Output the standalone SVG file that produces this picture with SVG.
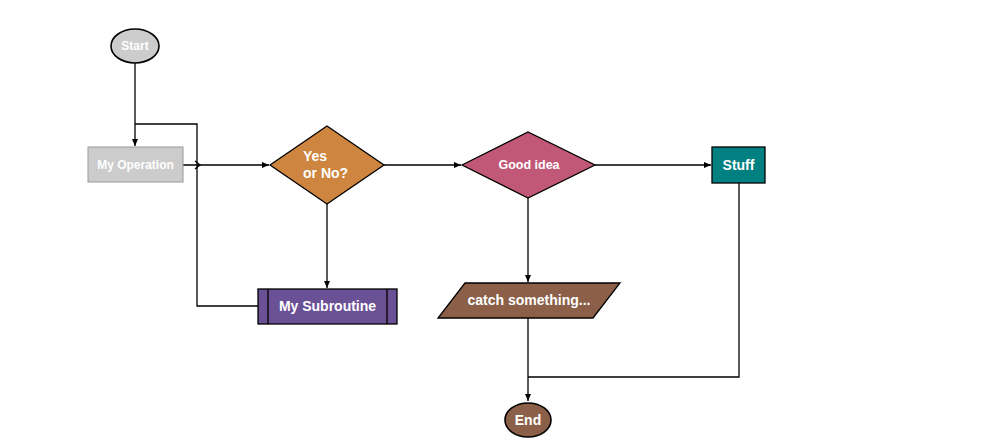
<svg xmlns="http://www.w3.org/2000/svg" width="1000" height="447" viewBox="0 0 1000 447">
<defs>
<marker id="arr" markerWidth="8" markerHeight="8" refX="7" refY="4" orient="auto" markerUnits="userSpaceOnUse">
<path d="M0,1 L7,4 L0,7 Z" fill="#000"/>
</marker>
</defs>
<style>
.lbl{font-family:"Liberation Sans",Arial,sans-serif;font-weight:bold;fill:#fff;font-size:14px;text-anchor:middle}
.sm{font-size:12px}
.edge{fill:none;stroke:#000;stroke-width:1.3}
.el{font-family:"Liberation Sans",Arial,sans-serif;font-weight:bold;fill:#fff;font-size:12px}
</style>
<rect width="1000" height="447" fill="#fff"/>
<g id="connectors">
<path class="edge" d="M135,63 V146" marker-end="url(#arr)"/>
<path class="edge" d="M183,165 H269" marker-end="url(#arr)"/>
<path class="edge" d="M195,161 L200,165 L195,169"/>
<path class="edge" d="M258,306 H197 V124 H135"/>
<path class="edge" d="M384,165 H461" marker-end="url(#arr)"/>
<path class="edge" d="M327,204 V288" marker-end="url(#arr)"/>
<path class="edge" d="M595,165 H711" marker-end="url(#arr)"/>
<path class="edge" d="M528,198 V282" marker-end="url(#arr)"/>
<path class="edge" d="M528,318 V401" marker-end="url(#arr)"/>
<path class="edge" d="M739,183 V377 H528"/>
<text class="el" x="398" y="159">yes</text>
<text class="el" x="333" y="216">no</text>
<text class="el" x="605" y="159">no</text>
<text class="el" x="534" y="212">yes</text>
</g>
<g id="start">
<ellipse cx="135" cy="46" rx="24" ry="17" fill="#cccccc" stroke="#000" stroke-width="1.6"/>
<text class="lbl sm" x="135" y="50">Start</text>
</g>
<g id="myoperation">
<rect x="88" y="147" width="95" height="35" fill="#cccccc" stroke="#999" stroke-width="1"/>
<text class="lbl sm" x="135.5" y="169">My Operation</text>
</g>
<g id="yesorno">
<polygon points="270,165 327,126 384,165 327,204" fill="#cd853f" stroke="#000" stroke-width="1.3"/>
<text class="lbl" x="303" y="161" style="text-anchor:start">Yes</text>
<text class="lbl" x="303" y="178" style="text-anchor:start">or No?</text>
</g>
<g id="goodidea">
<polygon points="462,165 528,132 595,165 528,198" fill="#c25878" stroke="#000" stroke-width="1.3"/>
<text class="lbl" x="529" y="169" style="font-size:12.5px">Good idea</text>
</g>
<g id="stuff">
<rect x="712" y="147" width="53" height="36" fill="#008080" stroke="#000" stroke-width="1.3"/>
<text class="lbl" x="738.5" y="170">Stuff</text>
</g>
<g id="mysubroutine">
<rect x="258" y="289" width="139" height="35" fill="#6a5195" stroke="#000" stroke-width="1.3"/>
<line x1="268" y1="289" x2="268" y2="324" stroke="#000" stroke-width="1.3"/>
<line x1="387" y1="289" x2="387" y2="324" stroke="#000" stroke-width="1.3"/>
<text class="lbl" x="327.5" y="311">My Subroutine</text>
</g>
<g id="catch">
<polygon points="465,283 620,283 593,318 438,318" fill="#8b5f48" stroke="#000" stroke-width="1.3"/>
<text class="lbl" x="529" y="305">catch something...</text>
</g>
<g id="end">
<ellipse cx="528" cy="420" rx="23" ry="17" fill="#8b5f48" stroke="#000" stroke-width="1.6"/>
<text class="lbl" x="528" y="425">End</text>
</g>
</svg>
